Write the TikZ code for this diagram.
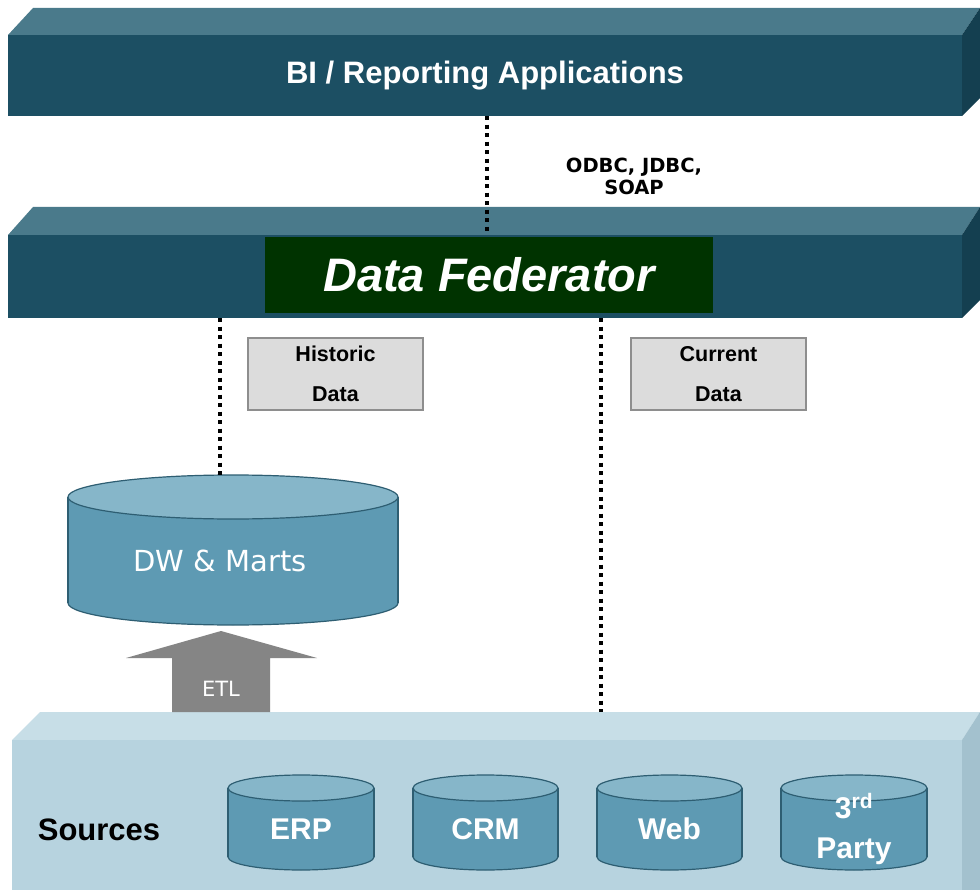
\documentclass[tikz,border=0pt]{standalone}
\usepackage{fontspec}
\setmainfont{Liberation Sans}
\newfontfamily\dejavu{DejaVu Sans}
\usetikzlibrary{calc}
\definecolor{barfront}{HTML}{1C4F63}
\definecolor{bartop}{HTML}{4A7A8B}
\definecolor{barside}{HTML}{143F50}
\definecolor{fedgreen}{HTML}{003300}
\definecolor{srcfront}{HTML}{B7D3DF}
\definecolor{srctopc}{HTML}{C7DEE7}
\definecolor{srcside}{HTML}{A3C1CE}
\definecolor{cylbody}{HTML}{5E9AB3}
\definecolor{cyltop}{HTML}{86B6C9}
\definecolor{cylline}{HTML}{2E5E72}
\definecolor{etlgray}{HTML}{858585}
\definecolor{boxgray}{HTML}{DCDCDC}
\definecolor{boxline}{HTML}{8E8E8E}
\tikzset{
  barface/.style={fill=barfront, draw=none, inner sep=0pt},
  dotline/.style={line width=4pt, dash pattern=on 4pt off 4.5pt, black},
  infobox/.style={fill=boxgray, draw=boxline, line width=1.5pt, minimum width=175pt, minimum height=72pt, inner sep=0pt, align=center, font=\fontsize{21.5}{40}\selectfont\bfseries},
  cyltext/.style={text=white, font=\fontsize{30}{36}\selectfont\bfseries, align=center, inner sep=0pt},
}
\newcommand\dbcyl[8]{%
  \fill[cylbody,draw=cylline,line width=1.2pt] (#2,#4) ellipse [x radius=#5, y radius=#6];
  \fill[cylbody] (#2-#5,#3) rectangle (#2+#5,#4);
  \draw[cylline,line width=1.2pt] (#2-#5,#3) -- (#2-#5,#4) (#2+#5,#3) -- (#2+#5,#4);
  \fill[cyltop,draw=cylline,line width=1.2pt] (#2,#3) ellipse [x radius=#5, y radius=#6];
  \node[cyltext] (#1) at (#2+#7,{(#3+#4)/2+#6/2}) {#8};
}
\begin{document}
\begin{tikzpicture}[x=1pt,y=-1pt]
\useasboundingbox (0,0) rectangle (980,890);
\fill[white] (0,0) rectangle (980,890);

% BI bar
\fill[bartop] (33,8) -- (980,8) -- (962,35) -- (8,35) -- cycle;
\fill[barside] (962,35) -- (980,8) -- (980,98) -- (962,116) -- cycle;
\node[barface, minimum width=954pt, minimum height=81pt, text=white,
  font=\fontsize{31}{36}\selectfont\bfseries] (bi) at (485,75.5) {BI / Reporting Applications};

% Federator bar
\fill[bartop] (33,207) -- (980,207) -- (962,235) -- (8,235) -- cycle;
\fill[barside] (962,235) -- (980,207) -- (980,300) -- (962,318) -- cycle;
\node[barface, minimum width=954pt, minimum height=83pt] (fed) at (485,276.5) {};
\node[fill=fedgreen, minimum width=448pt, minimum height=76pt, inner sep=0pt,
  text=white, font=\fontsize{47}{52}\selectfont\bfseries\itshape] (df) at (489,275) {Data Federator};

% Sources bar
\fill[srctopc] (40,712) -- (980,712) -- (962,740) -- (12,740) -- cycle;
\fill[srcside] (962,740) -- (980,712) -- (980,890) -- (962,890) -- cycle;
\node[fill=srcfront, minimum width=950pt, minimum height=150pt, inner sep=0pt] (src) at (487,815) {};
\coordinate (srctop) at (601,712);
\node[font=\fontsize{31}{34}\selectfont\bfseries] (srclabel) at (99,830) {Sources};

% cylinders
\dbcyl{dw}{233}{497}{603}{165}{22}{-13}{\dejavu\mdseries\fontsize{29}{32}\selectfont DW \& Marts}
\coordinate (dwtop) at (220,475);
\dbcyl{erp}{301}{788}{857}{73}{13}{0}{ERP}
\dbcyl{crm}{485.5}{788}{857}{72.5}{13}{0}{CRM}
\dbcyl{web}{669.5}{788}{857}{72.5}{13}{0}{Web}
\dbcyl{third}{854}{788}{857}{73}{13}{0}{3\textsuperscript{rd}\\[4pt]Party}

% ETL arrow
\fill[etlgray] (172,712) -- (172,658) -- (126,658) -- (221,631) -- (317,658) -- (270,658) -- (270,712) -- cycle;
\node[text=white, font=\dejavu\fontsize{21}{24}\selectfont] (etl) at (221,689) {ETL};

% info boxes
\node[infobox] (hist) at (335.5,374) {Historic\\Data};
\node[infobox] (curr) at (718.5,374) {Current\\Data};

% protocol label
\node[font=\dejavu\fontsize{19.5}{22}\selectfont\bfseries, align=center] (proto) at (634,176) {ODBC, JDBC,\\SOAP};

% dotted connectors
\coordinate (xa) at (487,0);
\coordinate (xb) at (220,0);
\coordinate (xc) at (601,0);
\draw[dotline] (xa |- bi.south) -- (xa |- fed.north);
\draw[dotline] (xb |- fed.south) -- (xb |- dwtop);
\draw[dotline] (xc |- fed.south) -- (srctop);
\end{tikzpicture}
\end{document}
